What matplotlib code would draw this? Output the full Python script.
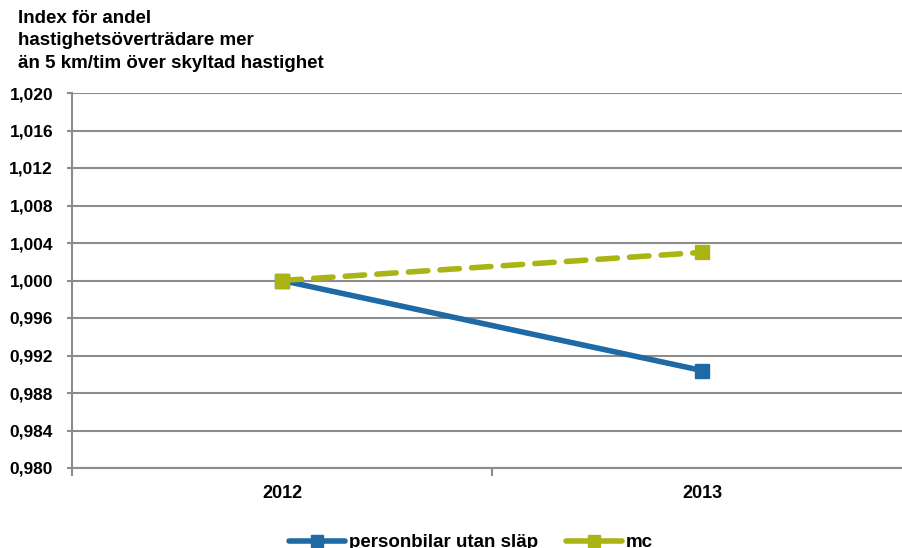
import numpy as np
import matplotlib.pyplot as plt
from matplotlib.lines import Line2D
from matplotlib.ticker import FuncFormatter, MultipleLocator

plt.rcParams['font.family'] = ['Liberation Sans', 'DejaVu Sans']
plt.rcParams['font.weight'] = 'bold'

years = ['2012', '2013']
personbilar = [1.000, 0.9904]
mc = [1.000, 1.003]
series_names = ['personbilar utan släp', 'mc']

blue = '#1f6aa5'
olive = '#aab414'
grid_col = '#8c8c8c'

fig = plt.figure(figsize=(9.02, 5.48), dpi=100)
ax = fig.add_axes([72 / 902, 80 / 548, 840 / 902, 375 / 548])

x = np.arange(len(years))
ax.plot(x, personbilar, color=blue, lw=4, marker='s', ms=10,
        solid_capstyle='round', zorder=3)
ax.plot(x, mc, color=olive, lw=4, ls=(0, (3.5, 2.2)), marker='s', ms=10,
        dash_capstyle='round', zorder=4)

ax.set_ylim(0.980, 1.020)
ax.yaxis.set_major_locator(MultipleLocator(0.004))
ax.yaxis.set_major_formatter(FuncFormatter(lambda v, p: f'{v:.3f}'.replace('.', ',')))
ax.set_xlim(-0.5, 1.5)
ax.set_xticks(x)
ax.set_xticklabels(years)
ax.set_xticks([-0.5, 0.5, 1.5], minor=True)

ax.grid(axis='y', color=grid_col, lw=1.5)
ax.set_axisbelow(True)
for s in ['top', 'right']:
    ax.spines[s].set_visible(False)
for s in ['left', 'bottom']:
    ax.spines[s].set_color(grid_col)
    ax.spines[s].set_linewidth(1.5)

ax.tick_params(axis='y', length=3.6, width=1.5, color=grid_col, labelsize=12.5, pad=10)
ax.tick_params(axis='x', which='major', length=0, labelsize=13, pad=12)
ax.tick_params(axis='x', which='minor', length=6, width=1.5, color=grid_col)

fig.text(18 / 902, 1 - 10 / 548,
         'Index för andel\nhastighetsöverträdare mer\nän 5 km/tim över skyltad hastighet',
         fontsize=13.5, fontweight='bold', va='top', ha='left', linespacing=1.42)

# legend keys are drawn as solid lines with a square marker
handles = [Line2D([], [], color=c, lw=4, marker='s', ms=9, solid_capstyle='round')
           for c in [blue, olive]]
fig.legend(handles, series_names, loc='lower center', bbox_to_anchor=(0.522, -0.037),
           ncol=2, frameon=False, fontsize=13.5, handlelength=3.0,
           columnspacing=1.45, handletextpad=0.2)

fig.savefig('out.png', dpi=100)
